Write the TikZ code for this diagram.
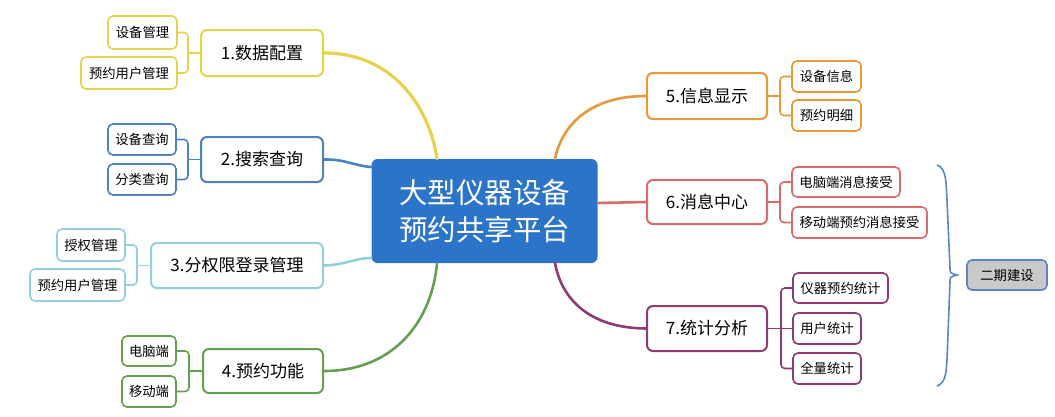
\documentclass[tikz,border=0pt]{standalone}
\usepackage{fontspec}
\setmainfont{Noto Sans CJK SC}
\usetikzlibrary{calc}
\definecolor{cYel}{HTML}{E6D24E}
\definecolor{cBlu}{HTML}{4F81BD}
\definecolor{cCya}{HTML}{93D0DA}
\definecolor{cGrn}{HTML}{65A052}
\definecolor{cOra}{HTML}{E6983A}
\definecolor{cRed}{HTML}{D96B6B}
\definecolor{cPur}{HTML}{8E3B72}
\definecolor{cCen}{HTML}{2B74C7}
\definecolor{cBrc}{HTML}{5B86C4}
\definecolor{cGry}{HTML}{C9C9C9}
\tikzset{
  x=1pt, y=-1pt,
  topic/.style={draw, line width=2pt, rounded corners=6pt, fill=white, inner sep=0pt, font=\fontsize{17}{20}\selectfont, text=black},
  sub/.style={draw, line width=1.6pt, rounded corners=5pt, fill=white, inner sep=0pt, font=\fontsize{13.3}{15}\selectfont, text=black},
  trunk/.style={line width=2.6pt, line cap=round},
  twig/.style={line width=1.6pt, rounded corners=4pt},
}
\begin{document}
\begin{tikzpicture}
\useasboundingbox (0,0) rectangle (1055,416);
% central
\node[fill=cCen, rounded corners=6pt, minimum width=226pt, minimum height=104pt, inner sep=0pt, text=white, align=center, font=\fontsize{28.5}{37}\selectfont] (c) at (484.5,211) {大型仪器设备\\预约共享平台};
% left topics
\node[topic, draw=cYel, minimum width=122pt, minimum height=46pt] (n1) at (262,53) {1.数据配置};
\node[sub, draw=cYel, minimum width=69pt, minimum height=33pt] (c11) at (142.5,32.5) {设备管理};
\node[sub, draw=cYel, minimum width=96pt, minimum height=32pt] (c12) at (129,73) {预约用户管理};
\node[topic, draw=cBlu, minimum width=122pt, minimum height=45pt] (n2) at (262,159.5) {2.搜索查询};
\node[sub, draw=cBlu, minimum width=68pt, minimum height=31pt] (c21) at (142,139.5) {设备查询};
\node[sub, draw=cBlu, minimum width=68pt, minimum height=31pt] (c22) at (142,179.5) {分类查询};
\node[topic, draw=cCya, minimum width=172pt, minimum height=45pt] (n3) at (237,265.5) {3.分权限登录管理};
\node[sub, draw=cCya, minimum width=68pt, minimum height=32pt] (c31) at (91,245) {授权管理};
\node[sub, draw=cCya, minimum width=95pt, minimum height=32pt] (c32) at (77.5,285) {预约用户管理};
\node[topic, draw=cGrn, minimum width=120pt, minimum height=44pt] (n4) at (263,371) {4.预约功能};
\node[sub, draw=cGrn, minimum width=54pt, minimum height=30pt] (c41) at (149,351) {电脑端};
\node[sub, draw=cGrn, minimum width=54pt, minimum height=31pt] (c42) at (149,391.5) {移动端};
% right topics
\node[topic, draw=cOra, minimum width=120pt, minimum height=46pt] (n5) at (707,96) {5.信息显示};
\node[sub, draw=cOra, minimum width=69pt, minimum height=31pt] (c51) at (826.5,76.5) {设备信息};
\node[sub, draw=cOra, minimum width=69pt, minimum height=31pt] (c52) at (826.5,115.5) {预约明细};
\node[topic, draw=cRed, minimum width=120pt, minimum height=44pt] (n6) at (707,202) {6.消息中心};
\node[sub, draw=cRed, minimum width=108pt, minimum height=30pt] (c61) at (846,182) {电脑端消息接受};
\node[sub, draw=cRed, minimum width=135pt, minimum height=31pt] (c62) at (859.5,222.5) {移动端预约消息接受};
\node[topic, draw=cPur, minimum width=120pt, minimum height=45pt] (n7) at (707,328.5) {7.统计分析};
\node[sub, draw=cPur, minimum width=95pt, minimum height=30pt] (c71) at (840.5,288) {仪器预约统计};
\node[sub, draw=cPur, minimum width=68pt, minimum height=31pt] (c72) at (827,328.5) {用户统计};
\node[sub, draw=cPur, minimum width=68pt, minimum height=31pt] (c73) at (827,368.5) {全量统计};
% phase 2
\node[sub, draw=cBrc, fill=cGry, minimum width=80pt, minimum height=30pt] (p2) at (1007,275) {二期建设};
% trunks
\draw[trunk, cYel, line width=3.2pt] (n1.east) .. controls (395,53) and (430,110) .. (c.north -| 437,0);
\draw[trunk, cBlu] (n2.east) .. controls (345,159) and (355,166) .. (c.west |- 0,167);
\draw[trunk, cCya] (n3.east) .. controls (345,265) and (355,258) .. (c.west |- 0,258);
\draw[trunk, cGrn] (n4.east) .. controls (395,371) and (432,320) .. (c.south -| 437,0);
\draw[trunk, cOra] (n5.west) .. controls (590,96) and (562,125) .. (c.north -| 555,0);
\draw[trunk, cRed] (n6.west) -- (c.east |- 0,203);
\draw[trunk, cPur] (n7.west) .. controls (590,328) and (562,300) .. (c.south -| 555,0);
% twigs left
\coordinate (j1) at ($(n1.west)+(-12,0)$);
\draw[twig, cYel] (n1.west) -- (j1); \draw[twig, cYel] (j1) |- (c11.east); \draw[twig, cYel] (j1) |- (c12.east);
\coordinate (j2) at ($(n2.west)+(-12,0)$);
\draw[twig, cBlu] (n2.west) -- (j2); \draw[twig, cBlu] (j2) |- (c21.east); \draw[twig, cBlu] (j2) |- (c22.east);
\coordinate (j3) at ($(n3.west)+(-13,0)$);
\draw[twig, cCya] (n3.west) -- (j3); \draw[twig, cCya] (j3) |- (c31.east); \draw[twig, cCya] (j3) |- (c32.east);
\coordinate (j4) at ($(n4.west)+(-13,0)$);
\draw[twig, cGrn] (n4.west) -- (j4); \draw[twig, cGrn] (j4) |- (c41.east); \draw[twig, cGrn] (j4) |- (c42.east);
% twigs right
\coordinate (j5) at ($(n5.east)+(12,0)$);
\draw[twig, cOra] (n5.east) -- (j5); \draw[twig, cOra] (j5) |- (c51.west); \draw[twig, cOra] (j5) |- (c52.west);
\coordinate (j6) at ($(n6.east)+(12,0)$);
\draw[twig, cRed] (n6.east) -- (j6); \draw[twig, cRed] (j6) |- (c61.west); \draw[twig, cRed] (j6) |- (c62.west);
\coordinate (j7) at ($(n7.east)+(13,0)$);
\draw[twig, cPur] (n7.east) -- (c72.west); \draw[twig, cPur] (j7) |- (c71.west); \draw[twig, cPur] (j7) |- (c73.west);
% brace
\coordinate (bt) at (937,165);
\coordinate (bb) at (937,386);
\draw[cBrc, line width=1.6pt] (bt) .. controls (947,168) and (946,185) .. (947,200) -- (950,268) .. controls (950,273) .. (957,275) .. controls (950,277) .. (950,282) -- (947,360) .. controls (946,378) and (944,383) .. (bb);
\end{tikzpicture}
\end{document}
